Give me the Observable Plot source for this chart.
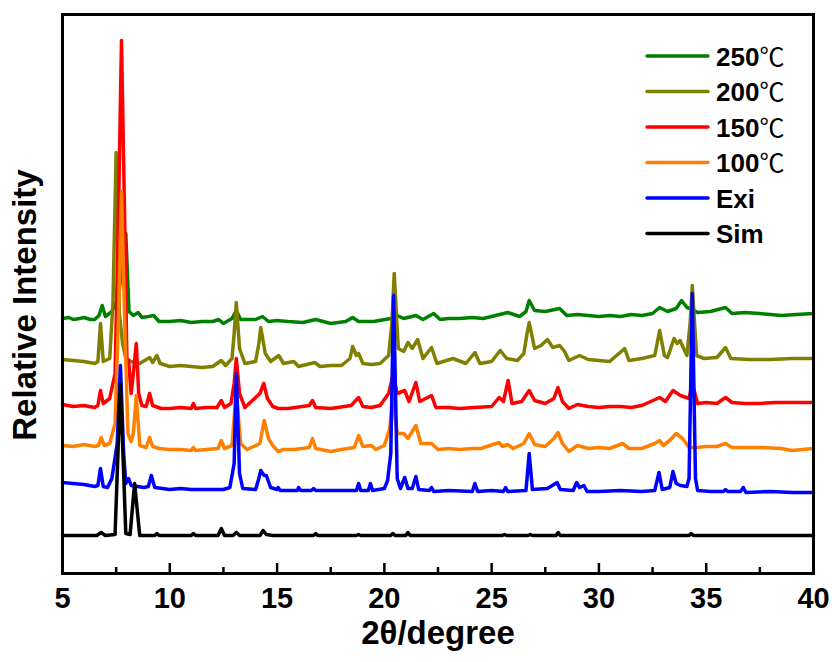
<!DOCTYPE html>
<html>
<head>
<meta charset="utf-8">
<script src="https://cdn.jsdelivr.net/npm/d3@7"></script>
<script src="https://cdn.jsdelivr.net/npm/@observablehq/plot@0.6"></script>
<style>
  html, body { margin: 0; padding: 0; background: #fff; }
  #wrap { position: relative; width: 832px; height: 662px; }
  #legend { position: absolute; left: 0; top: 0; pointer-events: none; }
</style>
</head>
<body>
<div id="wrap"></div>
<script>
// ---- tick labels ----
const majorTicks = [5, 10, 15, 20, 25, 30, 35, 40];
const minorTicks = [7.5, 12.5, 17.5, 22.5, 27.5, 32.5, 37.5];
const xLabel = "2θ/degree";
const yLabel = "Relative Intensity";

// ---- series names & colours (legend order, also draw order) ----
const seriesNames = ["250℃", "200℃", "150℃", "100℃", "Exi", "Sim"];
const seriesColors = ["#008000", "#808000", "#ff0000", "#ff8000", "#0000ff", "#000000"];

// ---- profiles: [2θ, relative intensity (offset, a.u.)] ----
const t250 = [[5,255],[5.3,256],[5.5,254],[5.8,255],[6.0,256],[6.3,254],[6.5,254],[6.7,258],[6.85,268],[7.0,257],[7.3,262],[7.6,275],[7.95,340],[8.1,262],[8.3,258],[8.53,261],[8.7,256],[9.0,257],[9.25,258],[9.5,252],[10,252],[10.5,253],[11,251],[11.5,252],[12.0,252],[12.28,254],[12.5,250],[12.9,255],[13.1,263],[13.3,254],[14.0,254],[14.32,257],[14.6,252],[15.0,253],[15.5,252],[16.2,251],[16.8,254],[17.5,250],[18.2,252],[18.52,256],[18.8,252],[19.5,252],[20.3,255],[20.6,258],[20.9,255],[21.47,258],[21.8,254],[22.3,260],[22.6,254],[23.0,255],[23.5,255],[24.1,256],[24.6,255],[25.0,257],[25.75,261],[26.3,257],[26.6,262],[26.75,273],[27.0,263],[27.5,262],[28.17,265],[28.5,258],[29.0,259],[29.5,258],[30.0,257],[30.5,258],[31.0,257],[31.5,259],[32.0,258],[32.5,260],[32.83,266],[33.2,262],[33.6,265],[33.85,273],[34.1,266],[34.35,264],[34.6,261],[35.2,262],[35.9,266],[36.2,260],[36.8,261],[37.5,260],[38.0,259],[38.5,258],[39.2,259],[40,260]];

const t200 = [[5,214],[5.5,213],[6.0,212],[6.5,210],[6.65,212],[6.77,250],[6.9,212],[7.2,215],[7.35,270],[7.5,421],[7.65,260],[7.8,230],[7.95,215],[8.2,212],[8.6,210],[9.06,216],[9.2,211],[9.4,218],[9.55,210],[10,207],[10.5,208],[11,207],[11.5,206],[12.0,207],[12.4,213],[12.6,208],[12.9,215],[13.0,240],[13.1,271],[13.25,225],[13.5,210],[14.0,212],[14.15,230],[14.24,246],[14.45,220],[14.7,212],[15.08,218],[15.3,210],[15.78,212],[16.0,207],[16.76,211],[17.0,207],[17.5,208],[18.0,208],[18.4,215],[18.52,227],[18.7,218],[18.8,220],[19.0,210],[19.4,209],[19.8,210],[20.2,218],[20.35,250],[20.46,300],[20.65,225],[20.9,222],[21.1,231],[21.3,225],[21.55,234],[21.8,215],[22.2,226],[22.45,210],[23.2,215],[23.8,210],[24.22,221],[24.45,210],[25.0,212],[25.4,223],[25.7,215],[26.2,213],[26.5,220],[26.65,240],[26.75,251],[27.0,225],[27.3,228],[27.6,234],[27.85,226],[28.17,228],[28.4,222],[28.6,213],[29.1,218],[29.5,214],[30.0,213],[30.5,212],[31.2,225],[31.4,213],[32.0,215],[32.6,218],[32.83,243],[33.05,218],[33.2,216],[33.5,235],[33.65,230],[33.78,233],[34.1,218],[34.25,250],[34.35,288],[34.55,218],[34.9,215],[35.5,216],[35.9,226],[36.15,215],[37,214],[38,214],[39,215],[40,215]];

const t150 = [[5,169],[5.5,167],[6.0,168],[6.5,166],[6.65,168],[6.77,183],[6.9,170],[7.2,175],[7.45,200],[7.6,350],[7.75,533],[7.9,350],[8.0,215],[8.08,213],[8.2,180],[8.3,200],[8.44,230],[8.55,180],[8.7,168],[8.9,167],[9.06,180],[9.2,168],[9.6,165],[10,165],[10.5,166],[11.0,165],[11.1,170],[11.2,165],[11.7,166],[12.2,166],[12.4,173],[12.55,166],[12.85,170],[13.0,190],[13.1,215],[13.25,180],[13.5,166],[14.2,180],[14.38,190],[14.55,175],[14.8,167],[15.05,165],[15.5,165],[15.85,166],[16.5,168],[16.65,173],[16.8,166],[17.5,165],[18.45,168],[18.8,176],[19.0,167],[19.4,166],[19.8,168],[20.2,180],[20.4,198],[20.6,180],[20.95,183],[21.15,172],[21.47,191],[21.65,172],[22.2,178],[22.4,166],[23.0,166],[23.5,165],[24.2,166],[25.0,167],[25.35,176],[25.55,172],[25.77,193],[25.95,170],[26.4,172],[26.75,183],[27.0,173],[27.5,170],[27.9,175],[28.09,186],[28.3,172],[28.6,165],[29.0,169],[29.5,167],[30.0,166],[30.5,167],[31.0,167],[31.5,166],[32.0,168],[32.83,176],[33.1,172],[33.45,183],[33.8,178],[34.2,175],[34.35,190],[34.6,170],[35.0,171],[35.5,170],[35.9,176],[36.2,171],[36.8,170],[37.5,170],[38.2,171],[39,171],[40,171]];

const t100 = [[5,128],[5.5,127],[6.0,129],[6.5,127],[6.68,128],[6.8,136],[6.95,128],[7.2,130],[7.45,150],[7.6,250],[7.75,382],[7.9,250],[8.05,140],[8.2,132],[8.3,140],[8.44,178],[8.6,128],[8.9,126],[9.06,136],[9.2,127],[9.5,125],[10,124],[10.5,124],[11,123],[11.1,126],[11.2,123],[11.7,124],[12.25,125],[12.4,133],[12.55,125],[12.9,128],[13.1,183],[13.3,130],[13.6,124],[14.2,130],[14.4,153],[14.6,135],[14.8,128],[15.05,122],[15.3,124],[15.8,124],[16.5,126],[16.65,135],[16.8,125],[17.5,122],[18.0,124],[18.6,126],[18.8,138],[19.0,127],[19.4,128],[19.6,124],[20.0,128],[20.25,145],[20.4,175],[20.6,140],[20.9,140],[21.1,135],[21.47,148],[21.7,130],[22.2,130],[22.5,124],[23.0,125],[23.5,124],[24.1,125],[24.5,125],[25.35,131],[25.5,127],[25.75,129],[26.0,125],[26.5,130],[26.75,140],[27.0,129],[27.5,127],[27.9,135],[28.09,141],[28.3,130],[28.6,122],[29.0,128],[29.5,125],[30.0,126],[30.5,125],[31.1,130],[31.4,125],[32.0,125],[32.6,130],[32.83,133],[33.0,128],[33.3,133],[33.6,140],[33.9,135],[34.2,126],[34.6,126],[35.0,127],[35.5,127],[35.9,130],[36.2,126],[36.8,126],[37.5,126],[38.5,125],[39,123],[40,125]];

const exi = [[5,91],[5.5,90],[6.0,89],[6.5,87],[6.65,88],[6.77,105],[6.9,87],[7.1,86],[7.3,95],[7.45,116],[7.55,130],[7.7,208],[7.85,120],[7.95,90],[8.08,95],[8.2,88],[8.8,86],[9.0,87],[9.14,98],[9.3,86],[10,84],[10.5,85],[11,84],[11.5,84],[12,84],[12.5,84],[12.8,86],[13.0,110],[13.1,200],[13.25,100],[13.4,85],[14.0,84],[14.15,95],[14.24,103],[14.4,98],[14.5,98],[14.7,86],[15.0,84],[15.05,86],[15.15,83],[15.95,83],[16.0,86],[16.1,83],[16.6,83],[16.7,85],[16.8,83],[17.5,83],[18.7,83],[18.8,90],[18.9,83],[19.25,83],[19.35,90],[19.45,83],[20.0,85],[20.15,93],[20.3,120],[20.43,278],[20.6,95],[20.75,85],[20.95,96],[21.1,85],[21.3,85],[21.47,97],[21.6,84],[22.1,83],[22.2,86],[22.3,82],[23.0,83],[24.1,82],[24.22,90],[24.35,82],[25.0,83],[25.55,82],[25.65,86],[25.75,82],[26.6,83],[26.75,120],[26.9,84],[27.6,85],[28.05,91],[28.2,84],[28.8,83],[28.96,91],[29.1,86],[29.3,88],[29.45,82],[30.0,82],[31.0,83],[32.0,82],[32.6,83],[32.8,101],[32.95,84],[33.3,86],[33.45,102],[33.6,90],[33.8,88],[34.1,87],[34.2,95],[34.35,280],[34.5,95],[34.6,83],[35.2,82],[35.8,82],[35.9,84],[36.0,82],[36.6,82],[36.73,86],[36.85,81],[38,82],[39,81],[40,81]];

const sim = [[5,38],[6.6,38],[6.8,41],[7.0,38],[7.45,39],[7.7,190],[7.95,40],[8.15,39],[8.36,90],[8.6,38],[9.3,38],[9.4,40],[9.5,38],[11.0,38],[11.1,40],[11.2,38],[12.25,38],[12.4,45],[12.55,38],[12.95,38],[13.1,41],[13.25,38],[14.2,38],[14.35,43],[14.5,39],[14.8,38],[16.7,38],[16.8,40],[16.9,38],[18.7,38],[18.8,39],[18.9,38],[20.3,38],[20.4,40],[20.5,38],[21.0,38],[21.1,41],[21.2,38],[25.5,38],[25.6,39],[25.7,38],[26.7,38],[26.8,39],[26.9,38],[28.0,38],[28.1,41],[28.2,38],[34.2,38],[34.3,40],[34.4,38],[40,38]];

const seriesData = [t250, t200, t150, t100, exi, sim];

const FONT = "'Liberation Sans', Arial, Helvetica, sans-serif";
const W = 832, H = 662;
const M = {left: 62, right: 19, top: 14, bottom: 89};
const innerH = H - M.top - M.bottom;

const lineMarks = seriesData.map((data, i) =>
  Plot.line(data, {
    x: d => d[0], y: d => d[1],
    stroke: seriesColors[i], strokeWidth: 3.5,
    strokeLinejoin: "round", strokeLinecap: "round"
  })
);

const chart = Plot.plot({
  width: W, height: H,
  marginLeft: M.left, marginRight: M.right, marginTop: M.top, marginBottom: M.bottom,
  x: {domain: [5, 40]},
  y: {domain: [0, innerH], axis: null},
  style: {fontFamily: FONT, fontWeight: "bold", background: "#fff", color: "#000"},
  marks: [
    ...lineMarks,
    Plot.tickX(majorTicks, {x: d => d, insetTop: innerH - 10, strokeWidth: 2.5, stroke: "#000"}),
    Plot.tickX(minorTicks, {x: d => d, insetTop: innerH - 6, strokeWidth: 2.5, stroke: "#000"}),
    Plot.frame({stroke: "#000", strokeWidth: 3}),
    Plot.axisX(majorTicks, {tickSize: 0, tickPadding: 14, fontSize: 29, fontWeight: "bold", label: null, tickFormat: d => String(d)}),
    Plot.text([xLabel], {text: d => d, frameAnchor: "bottom", dy: 70, fontSize: 33, fontWeight: "bold"}),
    Plot.text([yLabel], {text: d => d, frameAnchor: "left", textAnchor: "middle", rotate: -90, dx: -37, dy: 11, fontSize: 33, fontWeight: "bold"})
  ]
});

const wrap = document.getElementById("wrap");
wrap.appendChild(chart);

// ---- legend overlay (inside the frame, top right) ----
const leg = d3.select(wrap).append("svg")
  .attr("id", "legend").attr("width", W).attr("height", H);
const row0 = 56, rowStep = 35.5, lx1 = 647, lx2 = 708, tx = 716;
seriesNames.forEach((name, i) => {
  const cy = row0 + i * rowStep;
  leg.append("line").attr("x1", lx1).attr("x2", lx2).attr("y1", cy).attr("y2", cy)
    .attr("stroke", seriesColors[i]).attr("stroke-width", 3.5).attr("stroke-linecap", "round");
  const t = leg.append("text").attr("x", tx).attr("y", cy + 9.5)
    .attr("font-family", FONT).attr("font-size", 26).attr("font-weight", "bold").attr("fill", "#000");
  const m = name.match(/^(.*?)(℃)?$/);
  t.append("tspan").text(m[1]);
  if (m[2]) t.append("tspan").attr("font-family", "'Noto Sans CJK SC', 'DejaVu Sans', sans-serif")
    .attr("font-weight", "normal").attr("font-size", 25).text(m[2]);
});
</script>
</body>
</html>
